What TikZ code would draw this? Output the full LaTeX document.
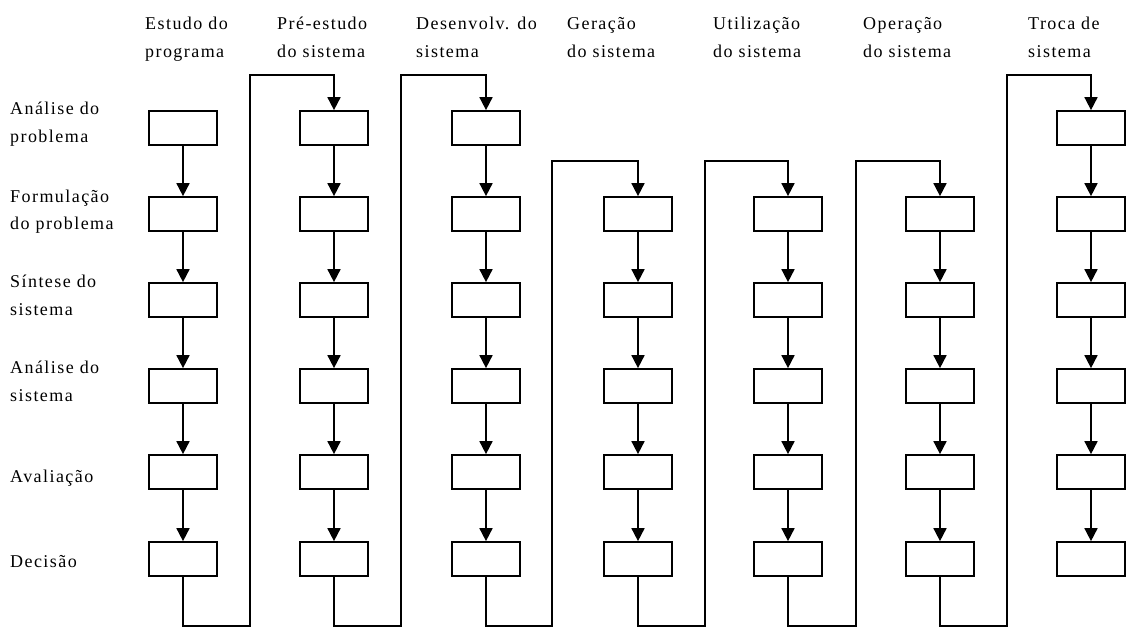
\documentclass[tikz,border=0pt]{standalone}
\usepackage{fontspec}
\setmainfont{Liberation Serif}[LetterSpace=8]
\usetikzlibrary{arrows.meta}
\begin{document}
\begin{tikzpicture}[x=1pt,y=-1pt,
  box/.style={draw, line width=1.7pt, minimum width=68pt, minimum height=34pt, inner sep=0pt},
  link/.style={line width=1.7pt},
  flow/.style={link, -{Triangle[width=13pt,length=13pt]}},
  lbl/.style={anchor=base west, inner sep=0pt, align=left, font=\fontsize{18}{28}\selectfont}
]
\useasboundingbox (0,0) rectangle (1126,628);
% boxes
\foreach \c/\x/\s in {1/183/1,2/334/1,3/486/1,4/638/2,5/788/2,6/940/2,7/1091/1}{
  \foreach \r/\y in {1/128,2/214,3/300,4/386,5/472,6/559}{
    \ifnum\r<\s\relax\else
      \node[box] (b\c\r) at (\x,\y) {};
    \fi
  }
}
% arrows inside columns
\foreach \c/\s in {1/1,2/1,3/1,4/2,5/2,6/2,7/1}{
  \foreach \r in {\s,...,5}{
    \pgfmathtruncatemacro\n{\r+1}
    \draw[flow] (b\c\r) -- (b\c\n);
  }
}
% connectors between columns
\foreach \c/\x/\t/\s in {1/250/75/1,2/401/75/1,3/552/161/2,4/705/161/2,5/856/161/2,6/1007/75/1}{
  \pgfmathtruncatemacro\n{\c+1}
  \coordinate (d\c) at (\x,626);
  \coordinate (u\c) at (\x,\t);
  \draw[flow] (b\c6.south) |- (d\c) -- (u\c) -| (b\n\s.north);
}
% column headers (anchor = baseline of the last line)
\node[lbl] (h1) at (145,58) {Estudo do\\programa};
\node[lbl] (h2) at (277,58) {Pré-estudo\\do sistema};
\node[lbl] (h3) at (416,58) {Desenvolv. do\\sistema};
\node[lbl] (h4) at (567,58) {Geração\\do sistema};
\node[lbl] (h5) at (713,58) {Utilização\\do sistema};
\node[lbl] (h6) at (863,58) {Operação\\do sistema};
\node[lbl] (h7) at (1028,58) {Troca de\\sistema};
% row labels
\node[lbl] (r1) at (10,143) {Análise do\\problema};
\node[lbl] (r2) at (10,230) {Formulação\\do problema};
\node[lbl] (r3) at (10,315) {Síntese do\\sistema};
\node[lbl] (r4) at (10,401) {Análise do\\sistema};
\node[lbl] (r5) at (10,482) {Avaliação};
\node[lbl] (r6) at (10,567) {Decisão};
\end{tikzpicture}
\end{document}
